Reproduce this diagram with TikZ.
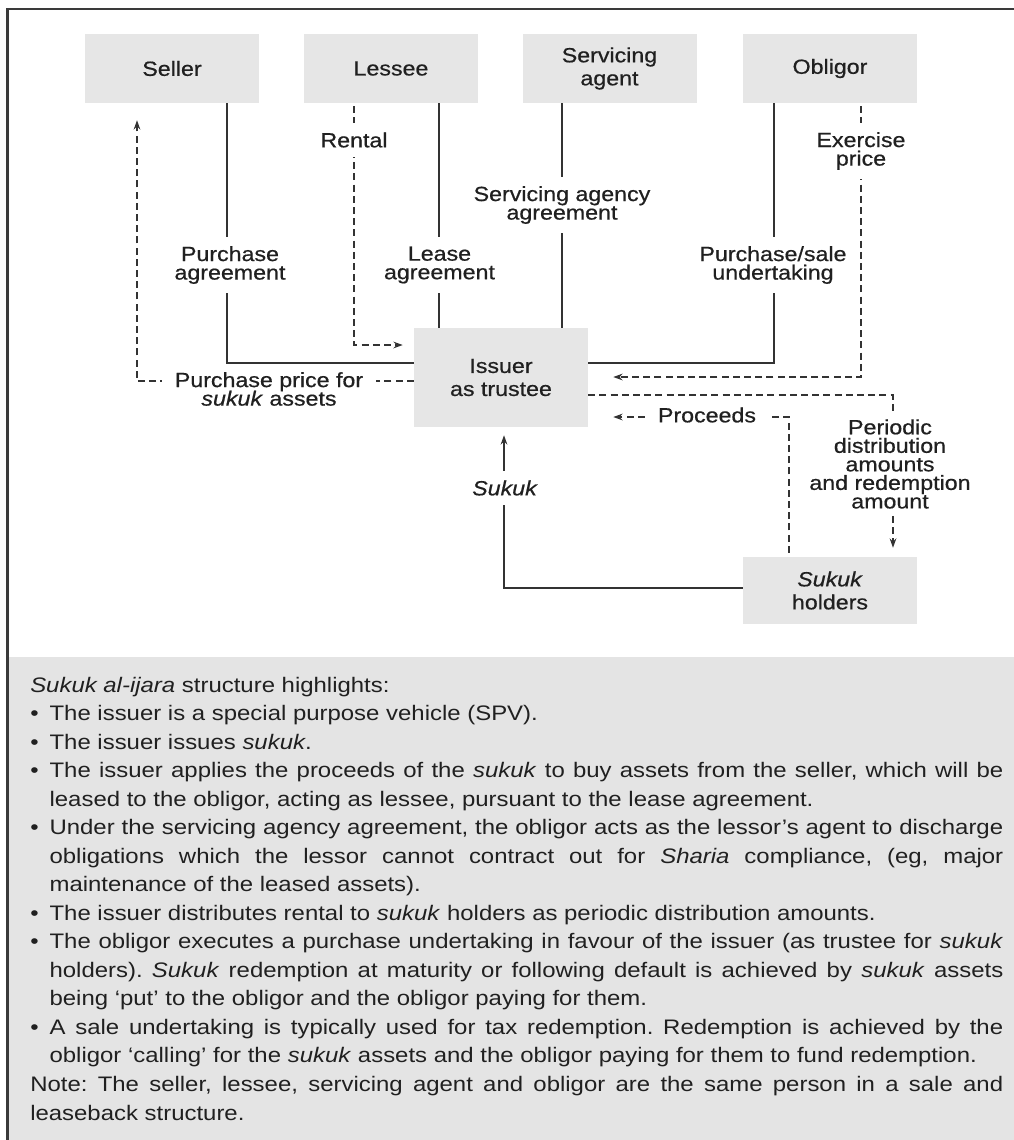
\documentclass[tikz,border=0pt]{standalone}
\usepackage{fontspec}
\setmainfont{Liberation Sans}[FakeStretch=1.14]
\newfontfamily\mediumsans{Liberation Sans}[FakeStretch=1.13, FakeBold=0.6]
\usetikzlibrary{arrows.meta,calc}

\definecolor{boxgray}{HTML}{E6E6E6}
\definecolor{panelgray}{HTML}{E4E4E4}
\definecolor{ink}{HTML}{202020}
\definecolor{wire}{HTML}{333333}
\definecolor{framecol}{HTML}{3A3A3A}

\frenchspacing
% type sizes (1 unit of the picture = 0.75pt)
\newcommand\partyfont{\mediumsans\fontsize{15.4pt}{17.25pt}\selectfont}
\newcommand\flowfont{\mediumsans\fontsize{15.4pt}{13.9pt}\selectfont\lineskiplimit=-20pt}
\newcommand\notefont{\fontsize{15.75pt}{21.4pt}\selectfont\lineskiplimit=-20pt}
% bullet and hanging indent for the highlights list
\newcommand\bul{\hbox to 14.5pt{\textbullet\hss}}
\newcommand\ind{\hskip 14.5pt\relax}

\begin{document}
\begin{tikzpicture}[x=0.75pt,y=-0.75pt,
  party/.style={fill=boxgray, inner sep=0pt, minimum width=130.5pt,
    minimum height=51.75pt, align=center, text=ink, font=\partyfont},
  wireline/.style={draw=wire, line width=1.4pt},
  dashwire/.style={wireline, dash pattern=on 5.2pt off 3.2pt},
  tip/.style={-{Stealth[length=7pt,width=5pt]}},
  vlab/.style={fill=white, inner xsep=2pt, inner ysep=7pt, align=center,
    text=ink, font=\flowfont},
  hlab/.style={fill=white, inner xsep=9.5pt, inner ysep=1.5pt, align=center,
    text=ink, font=\flowfont}
]
\useasboundingbox (0,0) rectangle (1014,1140);

% highlights panel and frame
\fill[panelgray] (8,657) rectangle (1014,1140);
\draw[framecol, line width=2pt] (7.5,1140) -- (7.5,9) -- (1014,9);

% parties
\node[party] (seller)    at (172,68.5)  {Seller};
\node[party] (lessee)    at (391,68.5)  {Lessee};
\node[party] (servicing) at (609.5,68.5) {Servicing\\agent};
\node[party] (obligor)   at (830,68.5)  {Obligor};
\node[party, minimum height=74.25pt] (issuer) at (501,377.5) {Issuer\\as trustee};
\node[party, minimum height=50.25pt] (holders) at (830,590.5) {\textit{Sukuk}\\holders};

% agreements (solid)
\draw[wireline] (seller.south -| 227,0) |- (issuer.west |- 0,363);
\draw[wireline] (lessee.south -| 439,0) -- (issuer.north -| 439,0);
\draw[wireline] (servicing.south -| 562,0) -- (issuer.north -| 562,0);
\draw[wireline] (obligor.south -| 774,0) |- (issuer.east |- 0,363);
\draw[wireline, tip, shorten >=6pt] (holders.west |- 0,588) -| (issuer.south -| 504,0);

% payments (dashed)
\draw[dashwire, tip, shorten >=12.75pt] (issuer.west |- 0,381) -| (seller.south -| 137,0);
\draw[dashwire, tip, shorten <=2.25pt, shorten >=8.25pt] (lessee.south -| 354,0) |- (issuer.west |- 0,345);
\draw[dashwire, tip, shorten <=2.25pt, shorten >=18.75pt] (obligor.south -| 861,0) |- (issuer.east |- 0,377);
\draw[dashwire, tip, shorten >=6.75pt] (issuer.east |- 0,395) -| (holders.north -| 893,0);
\draw[dashwire, tip, shorten <=3pt, shorten >=18.75pt] (holders.north -| 789,0) |- (issuer.east |- 0,417);

% flow labels
\node[vlab] (lpurch)  at (230,265)   {Purchase\\agreement};
\node[vlab] (llease)  at (439.5,265) {Lease\\agreement};
\node[vlab] (lrent)   at (354,140)   {Rental};
\node[vlab] (lserv)   at (562,205)   {Servicing agency\\agreement};
\node[vlab] (lundert) at (773,265)   {Purchase/sale\\undertaking};
\node[vlab] (lexer)   at (861,151)   {Exercise\\price};
\node[hlab] (lprice)  at (269,389)   {Purchase price for\\\textit{sukuk} assets};
\node[hlab] (lproc)   at (707,415)   {Proceeds};
\node[vlab, inner ysep=5pt] (lperiod) at (890,464) {Periodic\\distribution\\amounts\\and redemption\\amount};
\node[vlab] (lsukuk)  at (505,488)   {\textit{Sukuk}};

% highlights text
\node[anchor=base west, inner sep=0pt, text=ink] (notes) at (30,692) {\vtop{\notefont\hsize=729.75pt
\hbox{\textit{Sukuk al-ijara} structure highlights:}
\hbox{\bul The issuer is a special purpose vehicle (SPV).}
\hbox{\bul The issuer issues \textit{sukuk}.}
\hbox to\hsize{\bul The issuer applies the proceeds of the \textit{sukuk} to buy assets from the seller, which will be}
\hbox{\ind leased to the obligor, acting as lessee, pursuant to the lease agreement.}
\hbox to\hsize{\bul Under the servicing agency agreement, the obligor acts as the lessor's agent to discharge}
\hbox to\hsize{\ind obligations which the lessor cannot contract out for \textit{Sharia} compliance, (eg, major}
\hbox{\ind maintenance of the leased assets).}
\hbox{\bul The issuer distributes rental to \textit{sukuk} holders as periodic distribution amounts.}
\hbox to\hsize{\bul The obligor executes a purchase undertaking in favour of the issuer (as trustee for \textit{sukuk}}
\hbox to\hsize{\ind holders). \textit{Sukuk} redemption at maturity or following default is achieved by \textit{sukuk} assets}
\hbox{\ind being ‘put’ to the obligor and the obligor paying for them.}
\hbox to\hsize{\bul A sale undertaking is typically used for tax redemption. Redemption is achieved by the}
\hbox{\ind obligor ‘calling’ for the \textit{sukuk} assets and the obligor paying for them to fund redemption.}
\hbox to\hsize{Note: The seller, lessee, servicing agent and obligor are the same person in a sale and}
\hbox{leaseback structure.}}};
\end{tikzpicture}
\end{document}
